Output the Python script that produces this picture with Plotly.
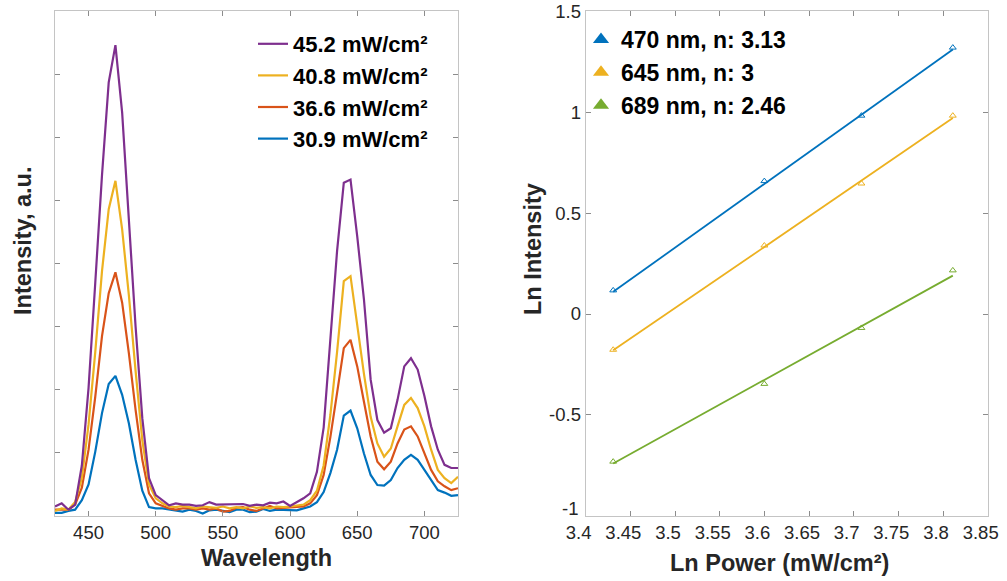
import plotly.graph_objects as go

# ---------------- data ----------------
wavelength = list(range(425, 730, 5))

int_30_9 = [0.05, 0.05, 0.08, 0.10, 0.25, 0.50, 1.02, 1.63, 2.09, 2.22, 1.92, 1.47, 0.89, 0.40, 0.14,
            0.12, 0.12, 0.10, 0.09, 0.07, 0.10, 0.08, 0.04, 0.09, 0.10, 0.08, 0.06, 0.10, 0.10, 0.06,
            0.07, 0.11, 0.08, 0.10, 0.10, 0.10, 0.09, 0.12, 0.15, 0.22, 0.38, 0.68, 1.05, 1.59, 1.67,
            1.39, 0.99, 0.65, 0.49, 0.48, 0.57, 0.76, 0.89, 0.97, 0.89, 0.73, 0.57, 0.41, 0.37, 0.32, 0.33]
int_36_6 = [0.10, 0.10, 0.10, 0.18, 0.45, 1.05, 1.89, 2.85, 3.53, 3.86, 3.38, 2.58, 1.68, 0.89, 0.36,
            0.20, 0.16, 0.12, 0.10, 0.12, 0.12, 0.10, 0.12, 0.10, 0.12, 0.07, 0.08, 0.13, 0.14, 0.10,
            0.08, 0.12, 0.16, 0.12, 0.13, 0.13, 0.14, 0.15, 0.20, 0.33, 0.65, 1.25, 1.95, 2.66, 2.79,
            2.37, 1.81, 1.26, 0.86, 0.74, 0.86, 1.15, 1.37, 1.42, 1.26, 1.00, 0.73, 0.55, 0.47, 0.41, 0.44]
int_40_8 = [0.08, 0.12, 0.10, 0.22, 0.60, 1.45, 2.60, 3.88, 4.86, 5.31, 4.54, 3.50, 2.30, 1.20, 0.50,
            0.28, 0.20, 0.15, 0.14, 0.16, 0.14, 0.12, 0.15, 0.14, 0.13, 0.15, 0.12, 0.14, 0.12, 0.15,
            0.13, 0.14, 0.12, 0.15, 0.14, 0.15, 0.16, 0.18, 0.25, 0.40, 0.80, 1.60, 2.60, 3.72, 3.80,
            3.00, 2.25, 1.57, 1.15, 0.94, 1.07, 1.42, 1.76, 1.87, 1.71, 1.42, 1.05, 0.73, 0.60, 0.52, 0.62]
int_45_2 = [0.15, 0.20, 0.10, 0.18, 0.80, 2.03, 3.70, 5.40, 6.87, 7.46, 6.39, 4.70, 3.00, 1.55, 0.60,
            0.33, 0.25, 0.17, 0.20, 0.18, 0.18, 0.16, 0.17, 0.22, 0.18, 0.18, 0.18, 0.19, 0.19, 0.16,
            0.18, 0.17, 0.21, 0.20, 0.23, 0.16, 0.22, 0.28, 0.36, 0.70, 1.40, 2.80, 4.20, 5.28, 5.33,
            4.43, 3.43, 2.16, 1.52, 1.32, 1.39, 1.84, 2.37, 2.50, 2.32, 1.90, 1.42, 1.05, 0.81, 0.76, 0.76]

spectra_labels = ["30.9 mW/cm²", "36.6 mW/cm²", "40.8 mW/cm²", "45.2 mW/cm²"]
spectra_colors = ["#0072BD", "#D95319", "#EDB120", "#7E2F8E"]
spectra_rank = [4, 3, 2, 1]

ln_power = [3.4308, 3.6000, 3.7087, 3.8110]
ln_int_470 = [0.117, 0.658, 0.982, 1.319]
ln_int_645 = [-0.177, 0.339, 0.646, 0.982]
ln_int_689 = [-0.731, -0.346, -0.069, 0.216]
fit_x = [3.4308, 3.8110]
fit_470 = [0.11, 1.31]
fit_645 = [-0.18, 0.97]
fit_689 = [-0.74, 0.19]
fit_labels = ["470 nm, n: 3.13", "645 nm, n: 3", "689 nm, n: 2.46"]
fit_colors = ["#0072BD", "#EDB120", "#77AC30"]

x1_ticks = [450, 500, 550, 600, 650, 700]
y1_ticks = [0, 1, 2, 3, 4, 5, 6, 7, 8]
x2_ticks = [3.4, 3.45, 3.5, 3.55, 3.6, 3.65, 3.7, 3.75, 3.8, 3.85]
x2_text = ["3.4", "3.45", "3.5", "3.55", "3.6", "3.65", "3.7", "3.75", "3.8", "3.85"]
y2_ticks = [-1, -0.5, 0, 0.5, 1, 1.5]
y2_text = ["", "-0.5", "0", "0.5", "1", "1.5"]
y2_bottom_label = "-1"

FONT = "Liberation Sans, Arial, Helvetica, sans-serif"
TXT = "#262626"
AX = "#c4c4c4"

fig = go.Figure()

for vals, lab, col, rk in zip([int_30_9, int_36_6, int_40_8, int_45_2], spectra_labels,
                              spectra_colors, spectra_rank):
    fig.add_trace(go.Scatter(x=wavelength, y=vals, mode="lines", name=lab,
                             line=dict(color=col, width=2.2), xaxis="x", yaxis="y",
                             legend="legend", legendrank=rk))

for yv, fv, lab, col in zip([ln_int_470, ln_int_645, ln_int_689], [fit_470, fit_645, fit_689],
                            fit_labels, fit_colors):
    fig.add_trace(go.Scatter(x=fit_x, y=fv, mode="lines", line=dict(color=col, width=1.8),
                             xaxis="x2", yaxis="y2", showlegend=False))
    fig.add_trace(go.Scatter(x=ln_power, y=yv, mode="markers",
                             marker=dict(symbol="triangle-up-open", size=6, color=col,
                                         line=dict(width=1)),
                             xaxis="x2", yaxis="y2", showlegend=False))
    fig.add_trace(go.Scatter(x=[None], y=[None], mode="markers", name=lab,
                             marker=dict(symbol="triangle-up", size=14, color=col),
                             xaxis="x2", yaxis="y2", legend="legend2"))

TICKFONT = dict(family=FONT, size=18.5, color=TXT)
axis_common = dict(showgrid=False, zeroline=False, showline=True, linecolor=AX, linewidth=1,
                   mirror="ticks", ticks="inside", ticklen=5, tickcolor="#8c8c8c", tickwidth=1,
                   tickfont=TICKFONT)

fig.update_layout(
    width=1007, height=581, autosize=False,
    margin=dict(l=0, r=0, t=0, b=0, autoexpand=False),
    paper_bgcolor="white", plot_bgcolor="white",
    font=dict(family=FONT, color=TXT),
    xaxis=dict(domain=[0.0546, 0.4548], range=[425, 725], tickvals=x1_ticks, anchor="y",
               **axis_common),
    yaxis=dict(domain=[0.1119, 0.981], range=[0, 8], tickvals=y1_ticks, showticklabels=False,
               anchor="x", **axis_common),
    xaxis2=dict(domain=[0.5816, 0.9808], range=[3.4, 3.85], tickvals=x2_ticks, ticktext=x2_text,
                anchor="y2", ticklabelshift=-7, **axis_common),
    yaxis2=dict(domain=[0.1119, 0.981], range=[-1, 1.5], tickvals=y2_ticks, ticktext=y2_text,
                anchor="x2", **axis_common),
    legend=dict(x=253 / 1007, y=1 - 23 / 581, xanchor="left", yanchor="top",
                traceorder="normal", bgcolor="rgba(0,0,0,0)",
                font=dict(family=FONT, size=22, color="black", weight="bold")),
    legend2=dict(x=581 / 1007, y=1 - 18 / 581, xanchor="left", yanchor="top",
                 traceorder="normal", bgcolor="rgba(0,0,0,0)",
                 font=dict(family=FONT, size=23, color="black", weight="bold")),
    showlegend=True,
)

# bottom y tick label of the right axis sits slightly above its tick (as in the original)
fig.add_annotation(text=y2_bottom_label, x=580 / 1007, y=1 - 508 / 581, xref="paper",
                   yref="paper", showarrow=False, font=TICKFONT, xanchor="right",
                   yanchor="middle")

title_font = dict(family=FONT, size=23.5, color=TXT, weight="bold")
fig.add_annotation(text="Wavelength", x=266 / 1007, y=1 - 558 / 581, xref="paper", yref="paper",
                   showarrow=False, font=title_font, xanchor="center", yanchor="middle")
fig.add_annotation(text="Ln Power (mW/cm²)", x=779 / 1007, y=1 - 563 / 581, xref="paper",
                   yref="paper", showarrow=False, font=title_font, xanchor="center", yanchor="middle")
fig.add_annotation(text="Intensity, a.u.", x=23 / 1007, y=1 - 241 / 581, xref="paper",
                   yref="paper", showarrow=False, font=title_font, textangle=-90,
                   xanchor="center", yanchor="middle")
fig.add_annotation(text="Ln Intensity", x=533 / 1007, y=1 - 249 / 581, xref="paper",
                   yref="paper", showarrow=False, font=title_font, textangle=-90,
                   xanchor="center", yanchor="middle")

fig.write_html(
    "out.html",
    post_script="document.body.style.margin='0';document.body.style.padding='0';"
                "window.dispatchEvent(new Event('resize'));",
)
